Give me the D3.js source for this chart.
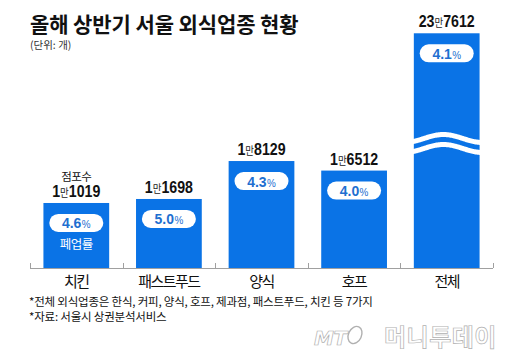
<!DOCTYPE html>
<html>
<head>
<meta charset="utf-8">
<script src="https://cdn.jsdelivr.net/npm/d3@7"></script>
<style>
  html, body { margin: 0; padding: 0; background: #fff; }
  svg { display: block; }
</style>
</head>
<body>
<svg id="chart" width="521" height="357"></svg>
<script>
// ---- data ----
const categories = ["치킨", "패스트푸드", "양식", "호프", "전체"];
const storeCounts = [11019, 11698, 18129, 16512, 237612];
const closureRates = [4.6, 5.0, 4.3, 4.0, 4.1];
const breakValue = 20000;          // axis is broken above this value (전체 bar)
const maxValue = 240000;
const title = "올해 상반기 서울 외식업종 현황";
const unitLabel = "(단위: 개)";
const storeLabel = "점포수";
const rateLabel = "폐업률";
const footnotes = [
  "*전체 외식업종은 한식, 커피, 양식, 호프, 제과점, 패스트푸드, 치킨 등 7가지",
  "*자료: 서울시 상권분석서비스"
];

// ---- layout ----
const svg = d3.select("#chart");
const KR = "'Noto Sans CJK KR', 'Noto Sans', sans-serif";
const NUM = "'Liberation Sans Narrow', 'Liberation Sans', Arial, sans-serif";
const BLUE = "#0a73e6";
const TXTBLUE = "#1e6fd0";
const baseY = 268;

const x = d3.scaleBand().domain(categories).range([30, 493])
  .paddingInner(0.29).paddingOuter(0.145);
const y = d3.scaleLinear().domain([0, breakValue, maxValue]).range([baseY, 150, 32]);

const data = categories.map((c, i) => ({ cat: c, count: storeCounts[i], rate: closureRates[i] }));
const cx = d => x(d.cat) + x.bandwidth() / 2;

// title
svg.append("text").attr("x", 30).attr("y", 32)
  .attr("font-family", KR).attr("font-weight", 700).attr("font-size", 21)
  .attr("letter-spacing", -0.1).attr("fill", "#111").text(title);
svg.append("text").attr("x", 30).attr("y", 49)
  .attr("font-family", KR).attr("font-size", 10.5).attr("fill", "#333").text(unitLabel);

// bars
const g = svg.append("g");
g.selectAll("rect.bar").data(data).join("rect").attr("class", "bar")
  .attr("x", d => x(d.cat)).attr("width", x.bandwidth())
  .attr("y", d => y(d.count)).attr("height", d => baseY - y(d.count))
  .attr("fill", BLUE);

// wave break on bars above the break value
const broken = data.filter(d => d.count > breakValue);
broken.forEach(d => {
  const x0 = x(d.cat) - 3, x1 = x(d.cat) + x.bandwidth() + 3;
  const mid = x(d.cat) + x.bandwidth() * 0.45;
  const pts = d3.range(x0, x1 + 0.5, 1);
  [138.5, 148.5].forEach(cy => {
    const line = d3.line().curve(d3.curveBasis)
      .x(v => v).y(v => cy - 4 * Math.cos(2 * Math.PI * (v - mid) / 78));
    g.append("path").attr("d", line(pts)).attr("fill", "none")
      .attr("stroke", "#fff").attr("stroke-width", 5);
  });
});

// axis
const axis = svg.append("g").attr("stroke", "#a0a0a0").attr("stroke-width", 1);
axis.append("line").attr("x1", 30).attr("x2", 493).attr("y1", baseY + 0.5).attr("y2", baseY + 0.5);
const boundaries = [30].concat(categories.map(c => x(c) + x.bandwidth() + x.step() * x.paddingInner() / 2));
boundaries[boundaries.length - 1] = 493;
axis.selectAll("line.tick").data(boundaries).join("line").attr("class", "tick")
  .attr("x1", d => Math.round(d) + 0.5).attr("x2", d => Math.round(d) + 0.5)
  .attr("y1", baseY - 5).attr("y2", baseY);

// category labels
svg.selectAll("text.cat").data(data).join("text").attr("class", "cat")
  .attr("x", cx).attr("y", 287)
  .attr("text-anchor", "middle").attr("font-family", KR).attr("font-size", 15)
  .attr("letter-spacing", -1.5).attr("fill", "#111").text(d => d.cat);

// value labels: "1만1019" (horizontally condensed)
const vl = svg.selectAll("g.val").data(data).join("g").attr("class", "val")
  .attr("transform", d => `translate(${cx(d)},${y(d.count) - 6}) scale(0.86,1)`)
  .append("text").attr("text-anchor", "middle").attr("fill", "#111");
vl.append("tspan").attr("font-family", NUM).attr("font-weight", 700).attr("font-size", 16.5)
  .text(d => Math.floor(d.count / 10000));
vl.append("tspan").attr("font-family", KR).attr("font-size", 11).attr("fill", "#222")
  .attr("dx", 0).text("만");
vl.append("tspan").attr("font-family", NUM).attr("font-weight", 700).attr("font-size", 16.5)
  .attr("dx", 0).text(d => String(d.count % 10000).padStart(4, "0"));

// 점포수 label on first bar
svg.append("text").attr("x", cx(data[0])).attr("y", y(storeCounts[0]) - 22)
  .attr("text-anchor", "middle").attr("font-family", KR).attr("font-size", 11.5)
  .attr("letter-spacing", -0.5).attr("fill", "#111").text(storeLabel);

// rate pills
const pw = 54, ph = 18;
svg.selectAll("rect.pill").data(data).join("rect").attr("class", "pill")
  .attr("x", d => cx(d) - pw / 2).attr("y", d => y(d.count) + 11)
  .attr("width", pw).attr("height", ph).attr("rx", ph / 2).attr("fill", "#fff");
const pt = svg.selectAll("g.rate").data(data).join("g").attr("class", "rate")
  .attr("transform", d => `translate(${cx(d)},${y(d.count) + 11 + ph / 2 + 5.5}) scale(0.9,1)`)
  .append("text").attr("text-anchor", "middle").attr("fill", TXTBLUE);
pt.append("tspan").attr("font-family", NUM).attr("font-weight", 700).attr("font-size", 15.5)
  .text(d => d.rate.toFixed(1));
pt.append("tspan").attr("font-family", NUM).attr("font-size", 11).attr("dx", 0.5).text("%");

// 폐업률 label on first bar
svg.append("text").attr("x", cx(data[0])).attr("y", y(storeCounts[0]) + 46)
  .attr("text-anchor", "middle").attr("font-family", KR).attr("font-size", 12.5)
  .attr("letter-spacing", -0.5).attr("fill", "#fff").text(rateLabel);

// footnotes
svg.selectAll("text.note").data(footnotes).join("text").attr("class", "note")
  .attr("x", 29).attr("y", (d, i) => 306 + i * 15)
  .attr("font-family", KR).attr("font-size", 11.5).attr("letter-spacing", -0.2)
  .attr("fill", "#111").text(d => d);

// logo
const logo = svg.append("g").attr("fill", "#fff").attr("stroke", "#b0b0b0").attr("stroke-width", 0.7);
logo.append("text").attr("x", 314).attr("y", 345).attr("font-family", "'DejaVu Sans', sans-serif")
  .attr("font-style", "italic").attr("font-weight", 700).attr("font-size", 20).attr("letter-spacing", -0.5).text("MT");
logo.append("ellipse").attr("cx", 355).attr("cy", 335).attr("rx", 6.5).attr("ry", 9)
  .attr("fill", "none").attr("stroke-width", 1.4).attr("transform", "rotate(25,355,335)");
logo.append("text").attr("x", 384).attr("y", 346).attr("font-family", KR).attr("font-weight", 700)
  .attr("font-size", 24).attr("letter-spacing", 0.5).text("머니투데이");
</script>
</body>
</html>
